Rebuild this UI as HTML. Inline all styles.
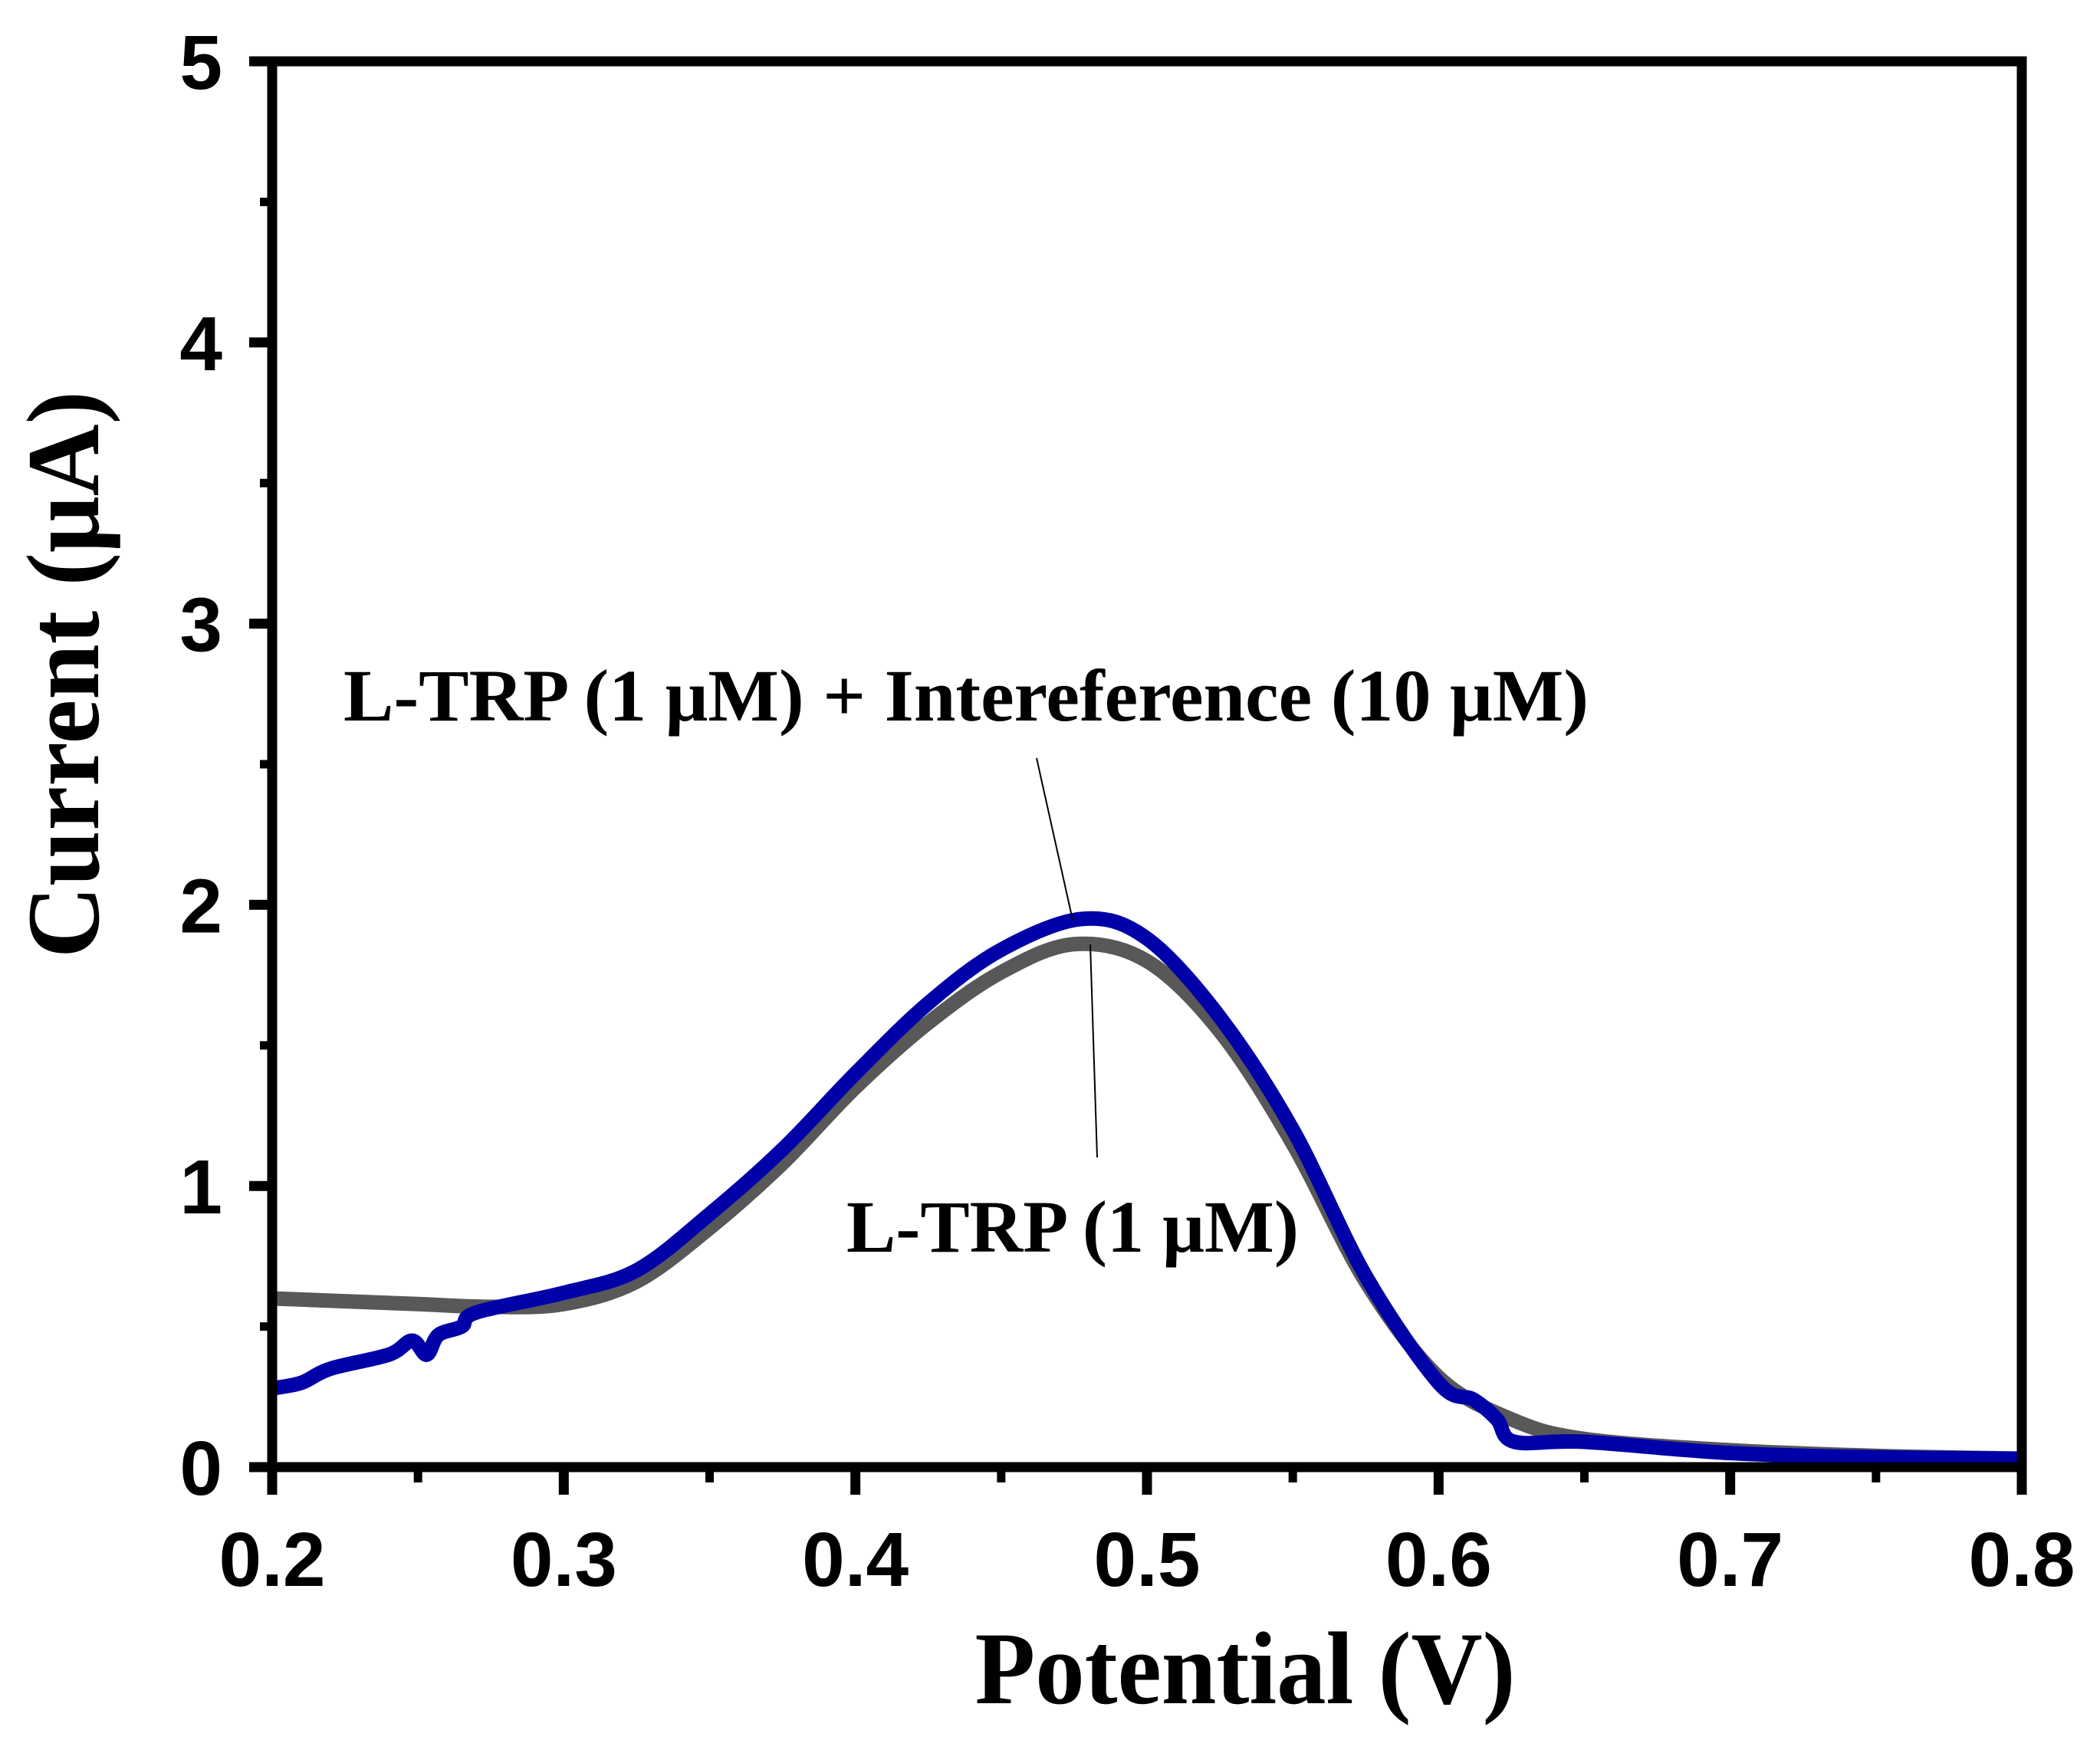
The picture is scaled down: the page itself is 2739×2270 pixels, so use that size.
<!DOCTYPE html>
<html><head><meta charset="utf-8"><style>html,body{margin:0;padding:0;background:#fff}svg{display:block}</style></head>
<body>
<svg id="chart" width="2739" height="2270" viewBox="0 0 2739 2270" xmlns="http://www.w3.org/2000/svg">
<g id="plot"></g>
</svg>
<script>
const xTickLabels = ["0.2","0.3","0.4","0.5","0.6","0.7","0.8"];
const xTickValues = [0.2,0.3,0.4,0.5,0.6,0.7,0.8];
const yTickLabels = ["0","1","2","3","4","5"];
const yTickValues = [0,1,2,3,4,5];
const greyX = [0.2,0.225,0.25,0.275,0.3,0.325,0.35,0.375,0.4,0.425,0.45,0.475,0.5,0.525,0.55,0.575,0.6,0.625,0.65,0.7,0.75,0.8];
const greyY = [0.6,0.59,0.58,0.57,0.58,0.66,0.85,1.08,1.35,1.58,1.76,1.86,1.8,1.55,1.15,0.66,0.32,0.17,0.1,0.06,0.04,0.03];
const blueX = [0.2,0.21,0.22,0.24,0.248,0.253,0.257,0.265,0.27,0.3,0.325,0.35,0.375,0.4,0.425,0.45,0.478,0.5,0.525,0.55,0.575,0.6,0.612,0.62,0.626,0.65,0.7,0.75,0.8];
const blueY = [0.28,0.3,0.35,0.4,0.45,0.4,0.47,0.5,0.55,0.62,0.7,0.9,1.13,1.4,1.65,1.84,1.95,1.88,1.6,1.2,0.68,0.3,0.24,0.17,0.09,0.09,0.05,0.035,0.03];

const L=355,R=2637,T=80,B=1914;
const xMin=0.2,xMax=0.8,yMin=0,yMax=5;
const sx=v=>L+(v-xMin)/(xMax-xMin)*(R-L);
const sy=v=>B-(v-yMin)/(yMax-yMin)*(B-T);
const NS="http://www.w3.org/2000/svg";
const g=document.getElementById('plot');
function mk(tag,attrs){const e=document.createElementNS(NS,tag);for(const k in attrs)e.setAttribute(k,attrs[k]);g.appendChild(e);return e;}

function smoothPath(xs,ys){
  const p=xs.map((x,i)=>[sx(x),sy(ys[i])]);
  let d=`M${p[0][0]},${p[0][1]}`;
  for(let i=0;i<p.length-1;i++){
    const p0=p[Math.max(0,i-1)],p1=p[i],p2=p[i+1],p3=p[Math.min(p.length-1,i+2)];
    const c1=[p1[0]+(p2[0]-p0[0])/6,p1[1]+(p2[1]-p0[1])/6];
    const c2=[p2[0]-(p3[0]-p1[0])/6,p2[1]-(p3[1]-p1[1])/6];
    d+=` C${c1[0]},${c1[1]} ${c2[0]},${c2[1]} ${p2[0]},${p2[1]}`;
  }
  return d;
}
const gl=mk('path',{d:smoothPath(greyX,greyY),fill:'none',stroke:'#585858','stroke-width':19,'stroke-linejoin':'round'});


const bl=mk('path',{d:smoothPath(blueX,blueY),fill:'none',stroke:'#0000a8','stroke-width':19,'stroke-linejoin':'round'});



const fr=mk('rect',{x:L,y:T,width:R-L,height:B-T,fill:'none',stroke:'#000','stroke-width':13});



xTickValues.forEach((v,i)=>{
  const t=mk('line',{x1:sx(v),x2:sx(v),y1:B,y2:B+36,stroke:'#000','stroke-width':13});
  
  
  if(i<xTickValues.length-1){
    const m=mk('line',{x1:sx(v+0.05),x2:sx(v+0.05),y1:B,y2:B+20,stroke:'#000','stroke-width':11});
    
    
  }
  const tx=mk('text',{x:sx(v),y:B+155,'text-anchor':'middle','font-family':'Liberation Sans, sans-serif','font-weight':'bold','font-size':100});
  tx.textContent=xTickLabels[i];
  
  
});
yTickValues.forEach((v,i)=>{
  const t=mk('line',{x1:L-30,x2:L,y1:sy(v),y2:sy(v),stroke:'#000','stroke-width':13});
  
  
  if(i<yTickValues.length-1){
    const m=mk('line',{x1:L-16,x2:L,y1:sy(v+0.5),y2:sy(v+0.5),stroke:'#000','stroke-width':11});
    
    
  }
  const tx=mk('text',{x:L-65,y:sy(v)+36,'text-anchor':'end','font-family':'Liberation Sans, sans-serif','font-weight':'bold','font-size':100});
  tx.textContent=yTickLabels[i];
  
  
});

const xt=mk('text',{x:1624,y:2222,'text-anchor':'middle','font-family':'Liberation Serif, serif','font-weight':'bold','font-size':135,textLength:705,lengthAdjust:'spacingAndGlyphs'});
xt.textContent='Potential (V)';


const yt=mk('text',{x:0,y:0,'text-anchor':'middle','font-family':'Liberation Serif, serif','font-weight':'bold','font-size':135,textLength:740,lengthAdjust:'spacingAndGlyphs',transform:'translate(128,880) rotate(-90)'});
yt.textContent='Current (μA)';



const a1=mk('text',{x:448,y:940,'font-family':'Liberation Serif, serif','font-weight':'bold','font-size':96,textLength:1624,lengthAdjust:'spacingAndGlyphs'});
a1.textContent='L-TRP (1 μM) +  Intereference (10 μM)';


const a2=mk('text',{x:1104,y:1633,'font-family':'Liberation Serif, serif','font-weight':'bold','font-size':96,textLength:590,lengthAdjust:'spacingAndGlyphs'});
a2.textContent='L-TRP (1 μM)';


const p1=mk('line',{x1:1352,y1:989,x2:1399,y2:1200,stroke:'#000','stroke-width':2});


const p2=mk('line',{x1:1431,y1:1510,x2:1422,y2:1232,stroke:'#000','stroke-width':2});


</script>
</body></html>
